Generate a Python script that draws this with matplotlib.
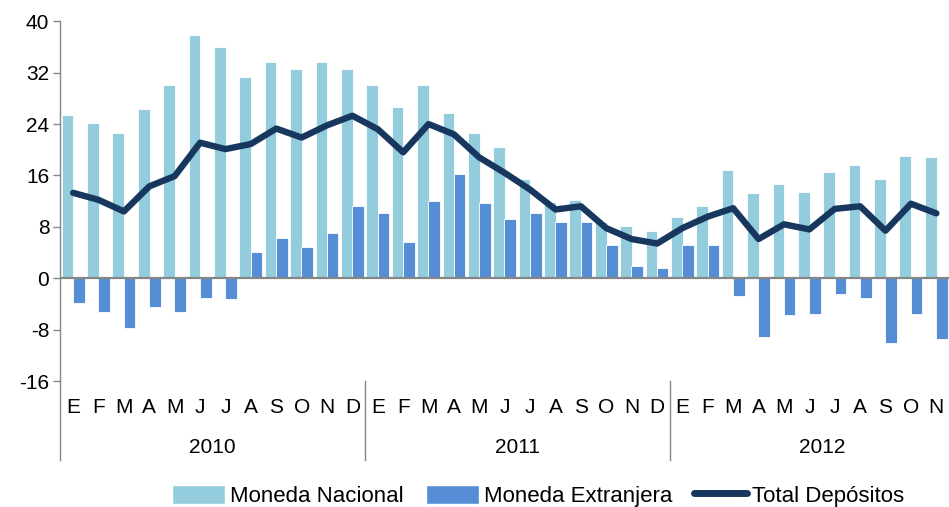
import numpy as np
import matplotlib.pyplot as plt
from matplotlib.lines import Line2D
from matplotlib.patches import Patch

months = ['E', 'F', 'M', 'A', 'M', 'J', 'J', 'A', 'S', 'O', 'N', 'D'] * 2 + \
         ['E', 'F', 'M', 'A', 'M', 'J', 'J', 'A', 'S', 'O', 'N']
years = ['2010', '2011', '2012']

# variación anual (%) por tipo de moneda
moneda_nacional = [25.4, 24.2, 22.6, 26.4, 30.1, 37.9, 36.0, 31.3, 33.6, 32.6, 33.6, 32.6,
                   30.1, 26.6, 30.1, 25.7, 22.6, 20.4, 15.4, 11.9, 12.2, 8.8, 8.2, 7.3,
                   9.5, 11.3, 16.9, 13.2, 14.7, 13.5, 16.6, 17.6, 15.4, 19.1, 18.8]
moneda_extranjera = [-3.9, -5.2, -7.7, -4.5, -5.2, -3.0, -3.3, 4.1, 6.3, 4.8, 7.0, 11.3,
                     10.1, 5.7, 12.0, 16.3, 11.7, 9.2, 10.1, 8.8, 8.8, 5.1, 1.9, 1.6,
                     5.1, 5.1, -2.7, -9.2, -5.8, -5.5, -2.4, -3.0, -10.1, -5.5, -9.5]
total_depositos = [13.3, 12.2, 10.4, 14.3, 15.9, 21.1, 20.1, 20.9, 23.3, 21.9, 23.8, 25.3,
                   23.2, 19.6, 24.0, 22.4, 18.8, 16.4, 13.8, 10.7, 11.2, 7.8, 6.1, 5.4,
                   7.8, 9.6, 10.9, 6.1, 8.4, 7.6, 10.8, 11.2, 7.4, 11.6, 10.1]

c_nac = '#93CDDD'
c_ext = '#558ED5'
c_tot = '#17375E'
gris = '#868686'

plt.rcParams['font.family'] = ['Liberation Sans', 'DejaVu Sans']
plt.rcParams['axes.unicode_minus'] = False

fig = plt.figure(figsize=(9.49, 5.07), dpi=100)
ax = fig.add_axes([0.0637, 0.2485, 0.9363, 0.7095])

x = np.arange(len(months))
w = 0.46
ax.bar(x - 0.22, moneda_nacional, width=w, color=c_nac, edgecolor='white', linewidth=0.6, zorder=2)
ax.bar(x + 0.22, moneda_extranjera, width=w, color=c_ext, edgecolor='white', linewidth=0.6, zorder=2)
ax.plot(x, total_depositos, color=c_tot, lw=4.6, solid_joinstyle='round',
        solid_capstyle='round', zorder=4)
ax.axhline(0, color=gris, lw=1.6, zorder=3)

ax.set_xlim(-0.5, len(months) - 0.5)
ax.set_ylim(-16, 40)
ax.set_yticks(np.arange(-16, 41, 8))
ax.tick_params(axis='y', direction='out', length=5, width=1, color=gris, labelsize=15, pad=3)
ax.set_xticks([])
for s in ['top', 'right', 'bottom']:
    ax.spines[s].set_visible(False)
ax.spines['left'].set_color(gris)
ax.spines['left'].set_linewidth(1.0)

# etiquetas de meses y años bajo el eje
trans = ax.get_xaxis_transform()
for i, m in enumerate(months):
    ax.text(i, -0.075, m, transform=trans, ha='center', va='center', fontsize=15,
            family=['Liberation Sans Narrow', 'Liberation Sans'], clip_on=False)
for k, yr in enumerate(years):
    ax.text(k * 12 + 5.5, -0.185, yr, transform=trans, ha='center', va='center',
            fontsize=15, clip_on=False)
for xs in [-0.5, 11.5, 23.5]:
    ax.add_line(Line2D([xs, xs], [0, -0.22], transform=trans, color=gris, lw=1.0,
                       clip_on=False))

handles = [Patch(facecolor=c_nac, edgecolor='white'),
           Patch(facecolor=c_ext, edgecolor='white'),
           Line2D([], [], color=c_tot, lw=5, solid_capstyle='round')]
fig.legend(handles, ['Moneda Nacional', 'Moneda Extranjera', 'Total Depósitos'],
           loc='center', bbox_to_anchor=(0.567, 0.022), ncol=3, frameon=False,
           fontsize=16, handlelength=2.4, handleheight=1.0, handletextpad=0.2,
           columnspacing=1.0)

fig.savefig('out.png', dpi=100)
